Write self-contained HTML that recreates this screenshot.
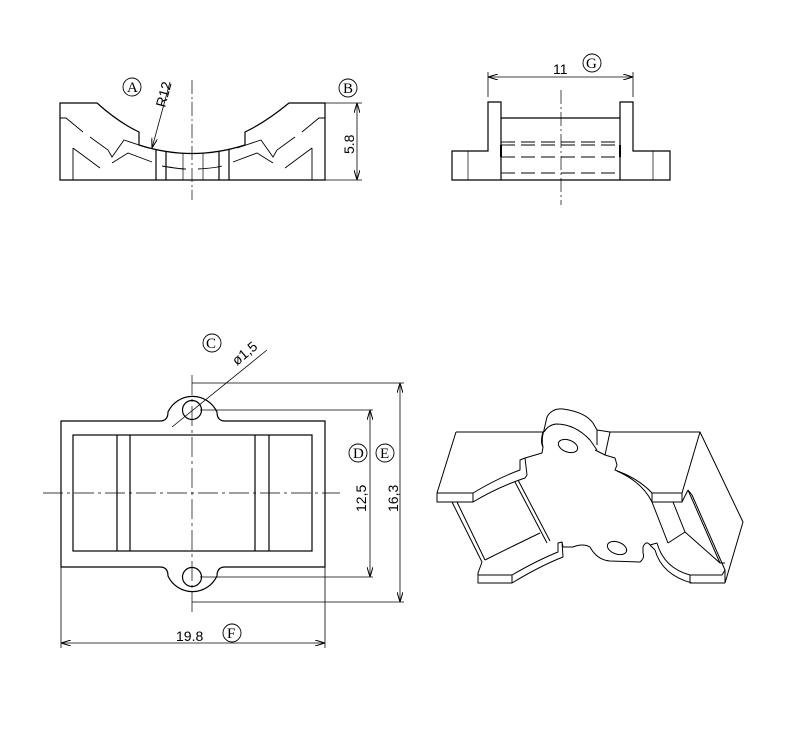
<!DOCTYPE html>
<html><head><meta charset="utf-8"><style>
html,body{margin:0;padding:0;background:#fff}
svg{display:block}
text{font-family:"Liberation Sans",sans-serif;fill:#000}
.c{font-family:"Liberation Serif",serif;font-size:15px}
</style></head><body>
<svg width="800" height="738" viewBox="0 0 800 738" xmlns="http://www.w3.org/2000/svg">
<defs>
<marker id="ar" markerWidth="10" markerHeight="6" refX="10" refY="3" orient="auto-start-reverse" markerUnits="userSpaceOnUse"><path d="M0,0 L10,3 L0,6" fill="none" stroke="#000" stroke-width="1"/></marker>
</defs>
<g fill="none" stroke="#000" stroke-width="1.2">
<!-- Front view top-left -->
<path d="M60,103 H97 Q118,122 139,132 V145 Q192,162 245,145 V132 Q266,122 289,103 H325 V180 H60 Z"/>
<line x1="156" y1="149" x2="156" y2="180"/><line x1="166" y1="151" x2="166" y2="180"/>
<line x1="219" y1="151" x2="219" y2="180"/><line x1="229" y1="149" x2="229" y2="180"/>
<line x1="183" y1="153" x2="183" y2="180" stroke-width="0.7"/><line x1="203" y1="153" x2="203" y2="180" stroke-width="0.7"/>
<g stroke-width="0.9">
<path d="M60,118 H66 L83,132 M90,137 L108,150 L112,157 L124,140 L148,148"/>
<path d="M73,148 L100,168 M112,163 L128,153 L152,162"/>
<line x1="73" y1="148" x2="73" y2="180"/>
<path d="M325,118 H319 L302,132 M295,137 L277,150 L273,157 L261,140 L237,148"/>
<path d="M312,148 L285,168 M273,163 L257,153 L233,162"/>
<line x1="312" y1="148" x2="312" y2="180"/>
<path d="M162,166 Q180,169 186,169 M198,169 Q215,168 222,166"/>
</g>
<path d="M192,80 V200" stroke-width="0.7" stroke-dasharray="14,3,2,3"/>
<line x1="325" y1="103" x2="362" y2="103" stroke-width="0.8"/>
<line x1="325" y1="180" x2="362" y2="180" stroke-width="0.8"/>
<line x1="357" y1="103" x2="357" y2="180" stroke-width="0.8" marker-start="url(#ar)" marker-end="url(#ar)"/>
<line x1="170" y1="82" x2="152" y2="148" stroke-width="0.8" marker-end="url(#ar)"/>
<circle cx="132" cy="87" r="9" stroke-width="0.9"/>
<circle cx="348" cy="88" r="9" stroke-width="0.9"/>

<!-- Side view top-right -->
<path d="M452,151 H488 V102 H501 V118 H620 V102 H633 V151 H670 V180 H452 Z"/>
<line x1="468" y1="151" x2="468" y2="180" stroke-width="0.7"/><line x1="653" y1="151" x2="653" y2="180" stroke-width="0.7"/>
<line x1="501" y1="118" x2="501" y2="180"/><line x1="620" y1="118" x2="620" y2="180"/>
<g stroke-width="0.9" stroke-dasharray="14,6">
<line x1="501" y1="142" x2="620" y2="142"/><line x1="501" y1="145" x2="620" y2="145"/>
<line x1="501" y1="157" x2="620" y2="157"/><line x1="501" y1="173" x2="620" y2="173"/>
</g>
<line x1="501" y1="145" x2="501" y2="157" stroke-width="2"/><line x1="620" y1="145" x2="620" y2="157" stroke-width="2"/>
<path d="M561,90 V205" stroke-width="0.7" stroke-dasharray="14,3,2,3"/>
<line x1="488" y1="72" x2="488" y2="97" stroke-width="0.8"/><line x1="633" y1="72" x2="633" y2="97" stroke-width="0.8"/>
<line x1="488" y1="77" x2="633" y2="77" stroke-width="0.8" marker-start="url(#ar)" marker-end="url(#ar)"/>
<circle cx="592" cy="63" r="9" stroke-width="0.9"/>

<!-- Plan view -->
<path d="M61,421 H160 Q168,421 168,412 A27,27 0 0 1 217,412 Q217,421 225,421 H325 V567 H225 Q217,567 217,576 A27,27 0 0 1 168,576 Q168,567 160,567 H61 Z"/>
<rect x="73" y="435" width="239" height="116"/>
<line x1="117" y1="435" x2="117" y2="551"/><line x1="130" y1="435" x2="130" y2="551"/>
<line x1="255" y1="435" x2="255" y2="551"/><line x1="269" y1="435" x2="269" y2="551"/>
<circle cx="192" cy="410" r="9.5"/><circle cx="192" cy="577" r="9.5"/>
<path d="M43,493 H340" stroke-width="0.7" stroke-dasharray="20,4,3,4"/>
<path d="M192,375 V612" stroke-width="0.7" stroke-dasharray="20,4,3,4"/>
<g stroke-width="0.8">
<line x1="200" y1="410" x2="373" y2="410"/><line x1="200" y1="577" x2="373" y2="577"/>
<line x1="370" y1="410" x2="370" y2="577" marker-start="url(#ar)" marker-end="url(#ar)"/>
<line x1="192" y1="383" x2="404" y2="383"/><line x1="192" y1="602" x2="404" y2="602"/>
<line x1="400" y1="383" x2="400" y2="602" marker-start="url(#ar)" marker-end="url(#ar)"/>
<line x1="61" y1="567" x2="61" y2="648"/><line x1="325" y1="567" x2="325" y2="648"/>
<line x1="61" y1="643" x2="325" y2="643" marker-start="url(#ar)" marker-end="url(#ar)"/>
<line x1="172" y1="427" x2="267" y2="350"/>
</g>
<circle cx="212" cy="343" r="9" stroke-width="0.9"/>
<circle cx="358" cy="453" r="9" stroke-width="0.9"/>
<circle cx="385" cy="453" r="9" stroke-width="0.9"/>
<circle cx="232" cy="633" r="9" stroke-width="0.9"/>

<!-- Isometric view -->
<g stroke-width="1" stroke-linejoin="round">
<!-- left upper block -->
<path d="M456,432 H543 M456,432 L437,493 L437,502 H473 V493 H437"/>
<path d="M473,493 Q498,478 520,470 V460 L525,458 L527,475 L525,478 Q498,487 473,502"/>
<path d="M525,458 L542,453 L543,447 Q540,442 543,432"/>
<!-- ear -->
<path d="M543,447 Q541,440 544,430 L547,417 Q552,408 563,409 Q585,412 593,423 L597,430 V445"/>
<path d="M544,432 Q548,425 556,424 Q575,424 590,440 L597,450"/>
<line x1="597" y1="430" x2="610" y2="432"/><line x1="595" y1="450" x2="605" y2="455"/><line x1="605" y1="455" x2="610" y2="432"/>
<ellipse cx="568" cy="446" rx="10" ry="6" transform="rotate(20 568 446)"/>
<!-- right upper block -->
<path d="M610,432 H700 L743,522 L725,583 M700,432 L682,493 H652 V502 H682 V493"/>
<path d="M605,455 L615,458 L617,465 L615,470 L620,472 Q640,480 652,493 M617,471 Q642,482 652,502"/>
<path d="M652,502 L668,543 M673,502 L685,532 M668,543 L685,532 L720,563 H725 M688,490 L720,563 M692,495 L725,570 V583 M688,490 L692,495 M682,502 L688,490"/>
<!-- lower right block -->
<path d="M657,543 Q664,568 690,575 V583 H725 M690,575 H722 L725,570 M655,550 Q662,575 692,583"/>
<path d="M643,547 Q646,540 650,545 L655,550 M657,543 L650,545"/>
<!-- lower plate edge -->
<path d="M563,547 L573,547 Q583,543 590,547 Q597,560 610,561 L640,562 Q645,558 643,553 L643,547"/>
<ellipse cx="617" cy="548" rx="10" ry="6" transform="rotate(20 617 548)"/>
<!-- left cavity -->
<path d="M452,502 L482,562 M457,502 L485,560 M515,482 L547,543 M518,480 L550,541 M485,560 Q515,545 540,533"/>
<!-- lower left block -->
<path d="M482,562 L478,573 V583 H512 V575 H478 M512,575 Q538,560 558,552 V543 L562,542 L563,557 Q540,566 512,583 M562,542 L563,547"/>
</g>
</g>
<text class="c" x="127" y="92">A</text>
<text class="c" x="343" y="93">B</text>
<text class="c" x="586" y="68">G</text>
<text class="c" x="206" y="348">C</text>
<text class="c" x="353" y="458">D</text>
<text class="c" x="380" y="458">E</text>
<text class="c" x="227" y="638">F</text>
<text x="165" y="108" font-size="14" transform="rotate(-75 165 108)">R12</text>
<text x="354" y="154" font-size="14" transform="rotate(-90 354 154)">5.8</text>
<text x="553" y="74" font-size="14">11</text>
<text x="237" y="366" font-size="14" transform="rotate(-40 237 366)">ø1,5</text>
<text x="366" y="512" font-size="14" transform="rotate(-90 366 512)">12,5</text>
<text x="398" y="512" font-size="14" transform="rotate(-90 398 512)">16,3</text>
<text x="176" y="641" font-size="14">19.8</text>
</svg>
</body></html>
